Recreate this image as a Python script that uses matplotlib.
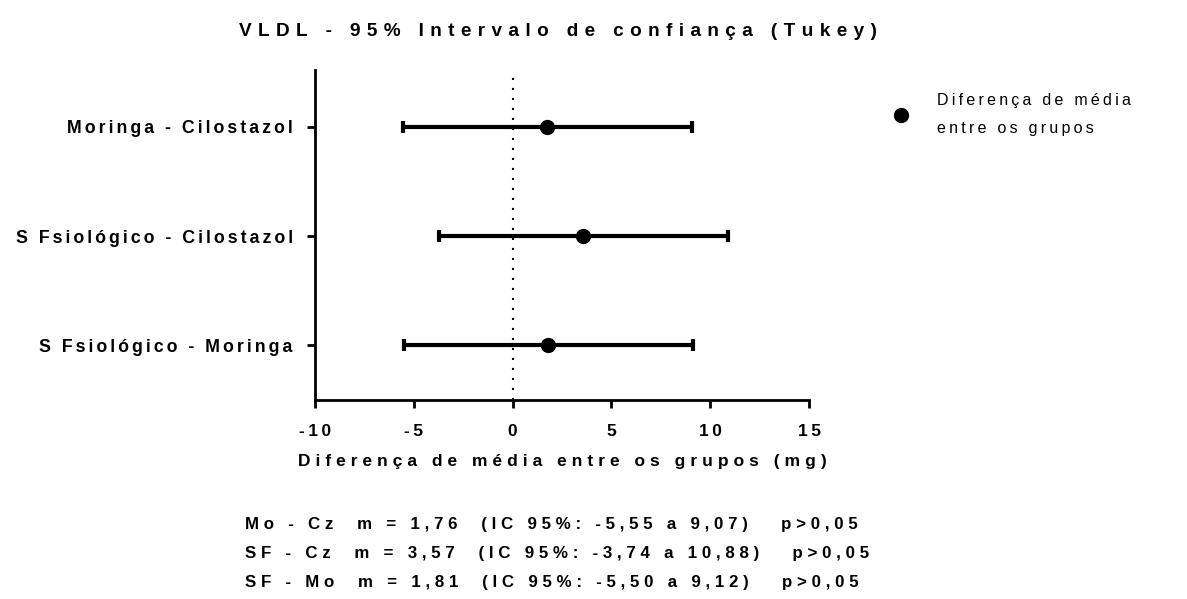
import numpy as np
import matplotlib
matplotlib.use('Agg')
import matplotlib.pyplot as plt
from matplotlib.lines import Line2D

# Tukey comparisons for VLDL
comparisons = ['Moringa - Cilostazol', 'S Fsiológico - Cilostazol', 'S Fsiológico - Moringa']
short_names = ['Mo - Cz', 'SF - Cz', 'SF - Mo']
mean_diff = [1.76, 3.57, 1.81]
ci_low = [-5.55, -3.74, -5.50]
ci_high = [9.07, 10.88, 9.12]
p_text = 'p>0,05'
x_ticks = [-10, -5, 0, 5, 10, 15]

plt.rcParams['font.family'] = ['Liberation Sans', 'DejaVu Sans']

HAIR = '\u200a'
SIXTH = '\u2006'
THIN = '\u2009'
THIRD = '\u2004'


def track(s, gap=THIN):
    # wide letter spacing, Prism style
    return gap.join(s)


def br(v):
    return f'{v:.2f}'.replace('.', ',')


fig = plt.figure(figsize=(11.87, 5.99), dpi=100)
ax = fig.add_axes([0.2654, 0.3322, 0.4162, 0.5509])

y = np.arange(len(comparisons))
mean = np.array(mean_diff)
lo = np.array(ci_low)
hi = np.array(ci_high)

ax.axvline(0, color='black', lw=1.5, linestyle=(0, (1, 3.8)), zorder=1)
ax.errorbar(mean, y, xerr=[mean - lo, hi - mean], fmt='o', color='black',
            ms=10, elinewidth=3, capsize=4.5, capthick=3, zorder=3)

ax.set_xlim(-10, 15)
ax.set_ylim(2.5, -0.52)
ax.set_xticks(x_ticks)
ax.set_xticklabels([track(str(t)) for t in x_ticks], fontweight='bold', fontsize=12.5)
ax.set_yticks(y)
ax.set_yticklabels([track(c, SIXTH) for c in comparisons], fontweight='bold', fontsize=12.8)

for side in ['top', 'right']:
    ax.spines[side].set_visible(False)
for side in ['left', 'bottom']:
    ax.spines[side].set_linewidth(2)
ax.tick_params(axis='both', width=2, length=6, direction='out')
ax.tick_params(axis='x', pad=11)
ax.tick_params(axis='y', pad=10)

ax.set_xlabel(track('Diferença de média entre os grupos (mg)', THIN + HAIR),
              fontweight='bold', fontsize=12.5, labelpad=11)
fig.text(0.47, 0.948, track('VLDL - 95% Intervalo de confiança (Tukey)', THIRD),
         fontweight='bold', fontsize=13.7, ha='center', va='center')

# legend to the right of the plot, marker only
handle = Line2D([], [], marker='o', ls='none', color='black', ms=10)
leg = ax.legend([handle], [track('Diferença de média', THIN) + '\n' + track('entre os grupos', THIN)],
                loc='upper left', bbox_to_anchor=(1.14, 0.975), frameon=False,
                handletextpad=1.75, handlelength=1.0, prop={'size': 11.5})
for t in leg.get_texts():
    t.set_linespacing(2.1)

# summary lines under the plot
for i in range(len(comparisons)):
    line = (f'{short_names[i]}  m = {br(mean_diff[i])}  (IC 95%: {br(ci_low[i])} a '
            f'{br(ci_high[i])})   {p_text}')
    fig.text(0.2064, 0.125 - i * 0.049, track(line, THIN + HAIR), fontweight='bold',
             fontsize=12.2, ha='left', va='center')

fig.savefig('out.png', dpi=100)
